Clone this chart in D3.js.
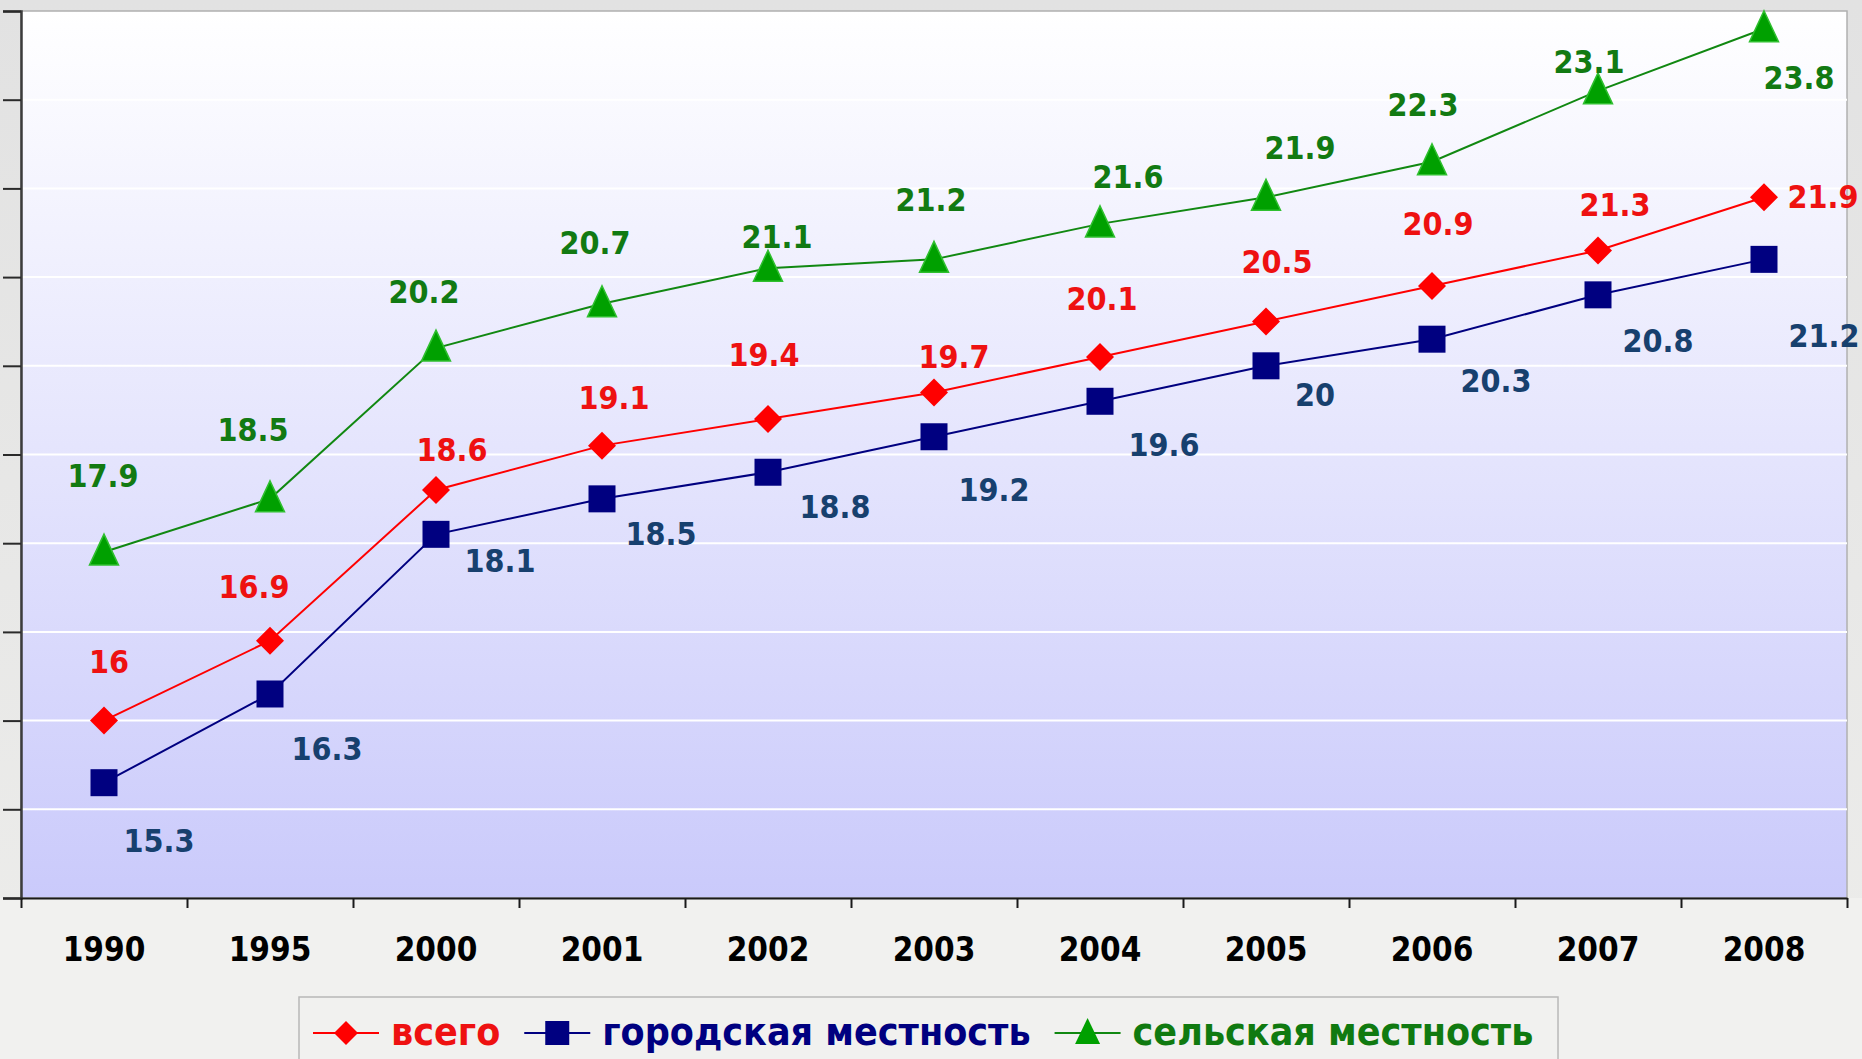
<!DOCTYPE html>
<html>
<head>
<meta charset="utf-8">
<script src="https://cdn.jsdelivr.net/npm/d3@7"></script>
<style>
  html, body { margin: 0; padding: 0; background: #ebebeb; overflow: hidden; }
  text { font-family: "DejaVu Sans Condensed", "DejaVu Sans", sans-serif; font-weight: bold; }
</style>
</head>
<body>
<script>

// chart data
var years = ["1990", "1995", "2000", "2001", "2002", "2003", "2004", "2005", "2006", "2007", "2008"];
var total = [16, 16.9, 18.6, 19.1, 19.4, 19.7, 20.1, 20.5, 20.9, 21.3, 21.9];
var urban = [15.3, 16.3, 18.1, 18.5, 18.8, 19.2, 19.6, 20, 20.3, 20.8, 21.2];
var rural = [17.9, 18.5, 20.2, 20.7, 21.1, 21.2, 21.6, 21.9, 22.3, 23.1, 23.8];
var seriesNames = ["всего", "городская местность", "сельская местность"];
var yTicks = [14, 15, 16, 17, 18, 19, 20, 21, 22, 23, 24];

// where each value label sits relative to its marker (px), as placed in the original
var totalNudge = [[5,-59],[-16,-54],[16,-41],[12,-48],[-4,-65],[20,-36],[2,-58],[11,-60],[6,-62],[17,-46],[59,-1]];
var urbanNudge = [[55,58],[57,54],[64,26],[59,35],[67,34],[60,53],[64,43],[49,29],[64,41],[60,46],[60,76]];
var ruralNudge = [[-1,-77],[-17,-69],[-12,-57],[-7,-61],[9,-32],[-3,-60],[28,-47],[34,-50],[-9,-57],[-9,-29],[35,49]];

function draw() {
    var width = 1862, height = 1059;
    var left = 21, right = 1847, top = 11, bottom = 898;

    var svg = d3.select("body").append("svg")
        .attr("width", width)
        .attr("height", height);

    var defs = svg.append("defs");
    var grad = defs.append("linearGradient")
        .attr("id", "plotbg")
        .attr("x1", 0).attr("y1", 0).attr("x2", 0).attr("y2", 1);
    grad.append("stop").attr("offset", "0%").attr("stop-color", "#ffffff");
    grad.append("stop").attr("offset", "100%").attr("stop-color", "#cacafb");

    var pageGrad = defs.append("linearGradient")
        .attr("id", "pagebg")
        .attr("x1", 0).attr("y1", 0).attr("x2", 0).attr("y2", 1);
    pageGrad.append("stop").attr("offset", "0%").attr("stop-color", "#e2e2e2");
    pageGrad.append("stop").attr("offset", "100%").attr("stop-color", "#ededeb");

    // page backdrop
    svg.append("rect")
        .attr("width", width).attr("height", height)
        .attr("fill", "url(#pagebg)");
    svg.append("rect")
        .attr("x", 0).attr("y", bottom).attr("width", width).attr("height", height - bottom)
        .attr("fill", "#f1f1ef");

    // scales
    var x = d3.scaleBand().domain(years).range([left, right]).padding(0);
    var xEdge = d3.scaleLinear().domain([0, years.length]).range([left, right]);
    var y = d3.scaleLinear().domain([14, 24]).range([bottom, top]);

    // plot area
    svg.append("rect")
        .attr("x", left).attr("y", top)
        .attr("width", right - left).attr("height", bottom - top)
        .attr("fill", "url(#plotbg)")
        .attr("stroke", "#b0b0b0")
        .attr("stroke-width", 1.5);

    // white gridlines
    svg.append("g").selectAll("line")
        .data(yTicks.slice(1, -1))
        .enter().append("line")
        .attr("x1", left).attr("x2", right)
        .attr("y1", function(d) { return y(d); })
        .attr("y2", function(d) { return y(d); })
        .attr("stroke", "#ffffff")
        .attr("stroke-width", 2);

    // y axis, ticks only
    var yAxis = svg.append("g")
        .attr("transform", "translate(" + left + ",0)")
        .call(d3.axisLeft(y).tickValues(yTicks).tickSize(18).tickFormat(""));
    yAxis.select(".domain").attr("stroke", "#3c3c3c").attr("stroke-width", 2.5);
    yAxis.selectAll(".tick line").attr("stroke", "#2a2a2a").attr("stroke-width", 2);

    // x axis: ticks between categories
    var xTickAxis = svg.append("g")
        .attr("transform", "translate(0," + bottom + ")")
        .call(d3.axisBottom(xEdge).tickValues(d3.range(years.length + 1)).tickSize(10).tickSizeOuter(0).tickFormat(""));
    xTickAxis.select(".domain").attr("stroke", "#1a1a1a").attr("stroke-width", 2);
    xTickAxis.selectAll(".tick line").attr("stroke", "#1a1a1a").attr("stroke-width", 2);

    // x labels
    var xLab = svg.append("g")
        .attr("transform", "translate(0," + bottom + ")")
        .call(d3.axisBottom(x).tickSize(0).tickPadding(40));
    xLab.select(".domain").remove();
    xLab.selectAll("text")
        .attr("fill", "#000")
        .style("font-size", "33px")
        .style("font-family", "'DejaVu Sans Condensed', 'DejaVu Sans', sans-serif");

    var series = [
        { name: seriesNames[0], values: total, nudge: totalNudge, line: "#ff0000", fill: "#ff0000", label: "#ee1111", text: "#ee1111", shape: "diamond" },
        { name: seriesNames[1], values: urban, nudge: urbanNudge, line: "#000080", fill: "#000080", label: "#17406e", text: "#000080", shape: "square" },
        { name: seriesNames[2], values: rural, nudge: ruralNudge, line: "#118811", fill: "#00a000", label: "#127a12", text: "#107a10", shape: "triangle" }
    ];

    function markerPath(shape) {
        if (shape === "diamond") return "M0,-14L14,0L0,14L-14,0Z";
        if (shape === "square") return "M-13.5,-13.5H13.5V13.5H-13.5Z";
        return "M0,-18L14.5,13L-14.5,13Z";
    }
    function legendPath(shape) {
        if (shape === "diamond") return "M0,-12L12,0L0,12L-12,0Z";
        if (shape === "square") return "M-12,-12H12V12H-12Z";
        return "M0,-15L12.5,11L-12.5,11Z";
    }

    var line = d3.line()
        .x(function(d, i) { return x(years[i]) + x.bandwidth() / 2; })
        .y(function(d) { return y(d); });

    var g = svg.append("g");
    series.forEach(function(s) {
        g.append("path")
            .datum(s.values)
            .attr("fill", "none")
            .attr("stroke", s.line)
            .attr("stroke-width", 2)
            .attr("d", line);
    });

    series.forEach(function(s) {
        g.selectAll(".m-" + s.shape)
            .data(s.values)
            .enter().append("path")
            .attr("class", "m-" + s.shape)
            .attr("transform", function(d, i) {
                return "translate(" + (x(years[i]) + x.bandwidth() / 2) + "," + y(d) + ")";
            })
            .attr("d", markerPath(s.shape))
            .attr("fill", s.fill)
            .attr("stroke", s.shape === "triangle" ? "#2fbf2f" : "none")
            .attr("stroke-width", 1.5);
    });

    // value labels
    series.forEach(function(s) {
        g.selectAll(".l-" + s.shape)
            .data(s.values)
            .enter().append("text")
            .attr("class", "l-" + s.shape)
            .attr("x", function(d, i) { return x(years[i]) + x.bandwidth() / 2 + s.nudge[i][0]; })
            .attr("y", function(d, i) { return y(d) + s.nudge[i][1]; })
            .attr("dy", "0.36em")
            .attr("text-anchor", "middle")
            .attr("fill", s.label)
            .style("font-size", "32px")
            .text(function(d) { return d; });
    });

    // legend
    var legend = svg.append("g");
    legend.append("rect")
        .attr("x", 299).attr("y", 997)
        .attr("width", 1259).attr("height", 90)
        .attr("fill", "none")
        .attr("stroke", "#b8b8b8")
        .attr("stroke-width", 1.5);

    var lx = 313, ly = 1033;
    series.forEach(function(s) {
        var item = legend.append("g").attr("transform", "translate(" + lx + "," + ly + ")");
        item.append("line")
            .attr("x1", 0).attr("x2", 66)
            .attr("stroke", s.line).attr("stroke-width", 2);
        item.append("path")
            .attr("transform", "translate(33,0)")
            .attr("d", legendPath(s.shape))
            .attr("fill", s.fill);
        var t = item.append("text")
            .attr("x", 78).attr("y", 12)
            .attr("fill", s.text)
            .style("font-size", "39px")
            .text(s.name);
        lx += 78 + t.node().getComputedTextLength() + 24;
    });
}

window.onload = draw;
</script>
</body>
</html>
